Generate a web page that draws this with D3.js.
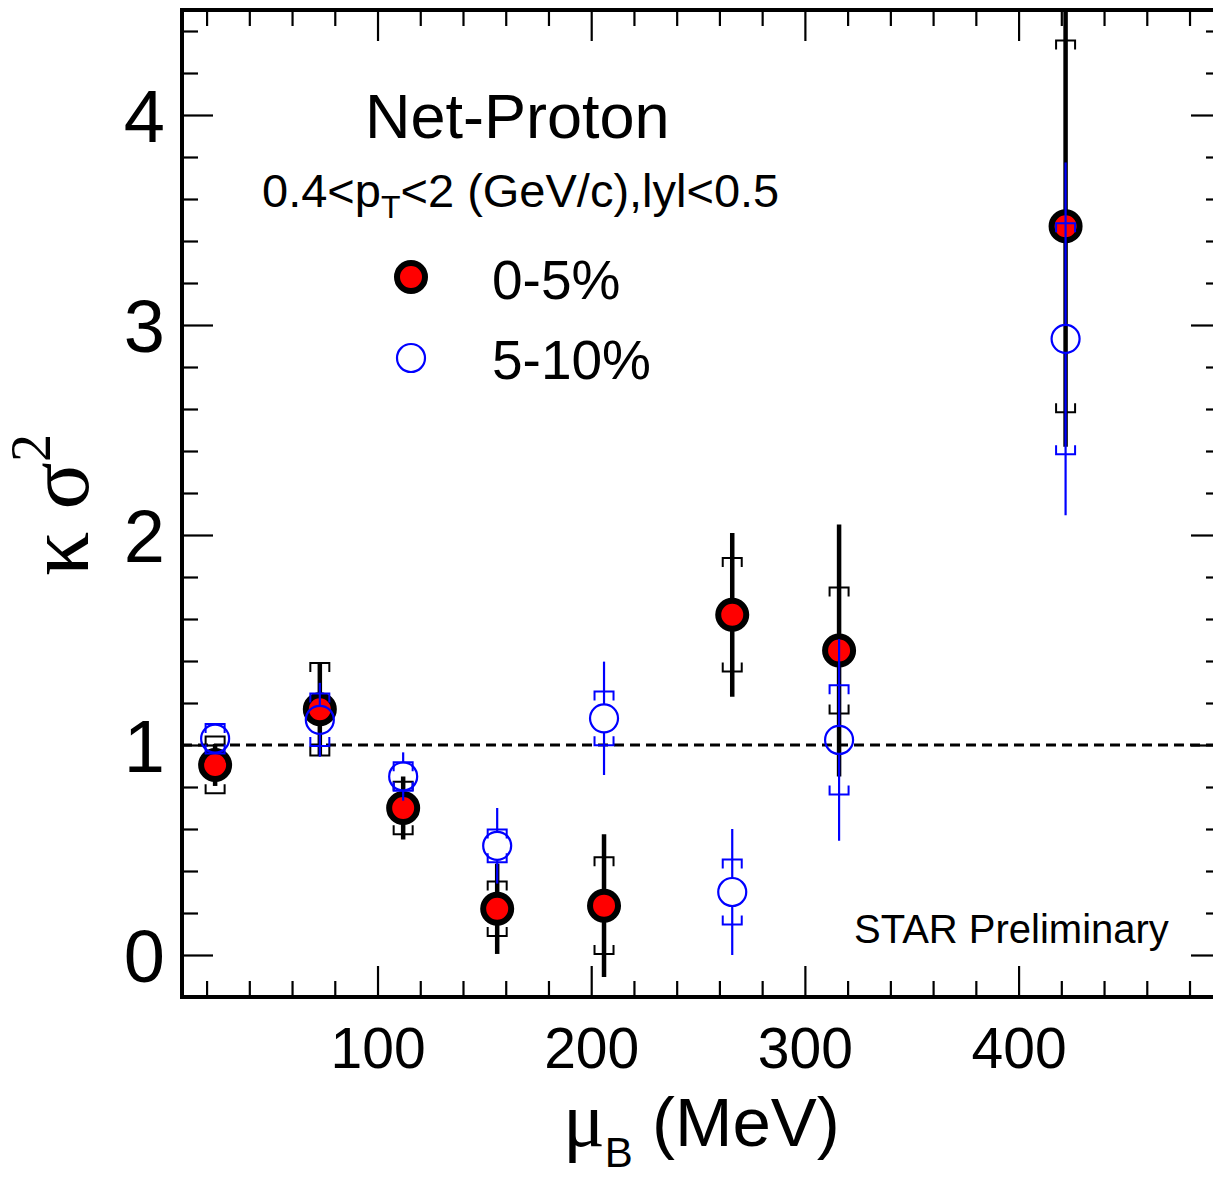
<!DOCTYPE html>
<html><head><meta charset="utf-8">
<script src="https://cdn.jsdelivr.net/npm/d3@7"></script>
<style>body{margin:0;background:#fff}svg{display:block}</style>
</head><body>
<svg id="c" width="1213" height="1179"></svg>
<script>
// ---- data ----
const muB = [24, 73, 112, 156, 206, 266, 316, 422];
const kappa0to5 = [0.905, 1.17, 0.70, 0.22, 0.235, 1.62, 1.45, 3.47];
const stat0to5  = [0.10, 0.22, 0.15, 0.215, 0.34, 0.39, 0.60, 1.05];
const sys0to5   = [0.135, 0.22, 0.125, 0.13, 0.23, 0.27, 0.30, 0.885];
const kappa5to10 = [1.03, 1.12, 0.85, 0.52, 1.127, 0.30, 1.024, 2.934];
const stat5to10  = [0.05, 0.176, 0.115, 0.18, 0.27, 0.30, 0.48, 0.84];
const sys5to10   = [0.07, 0.125, 0.068, 0.078, 0.128, 0.155, 0.26, 0.55];
const xMajorTicks = [100, 200, 300, 400];
const yMajorTicks = [0, 1, 2, 3, 4];
const legendLabels = ["0-5%", "5-10%"];

const svg = d3.select("#c");
const L = 182, R = 1222, T = 10, B = 997;
const x = d3.scaleLinear().domain([8.5, 495.2]).range([L, R]);
const y = d3.scaleLinear().domain([-0.2, 4.5]).range([B, T]);
const sans = "'Liberation Sans', Arial, Helvetica, sans-serif";
const serif = "'Liberation Serif', 'DejaVu Serif', serif";

svg.append("defs").append("clipPath").attr("id","pc")
  .append("rect").attr("x",L).attr("y",T).attr("width",R-L).attr("height",B-T);

// minor ticks
const xMinor = d3.range(20, 495, 20).filter(v => v % 100 !== 0);
const yMinor = d3.range(-0.2, 4.51, 0.2).map(v => +v.toFixed(1)).filter(v => !Number.isInteger(v));

function styleAxis(g){ g.select(".domain").remove(); g.selectAll(".tick line").attr("stroke","#000").attr("stroke-width",2.2); }

svg.append("g").attr("transform",`translate(0,${B})`)
  .call(d3.axisBottom(x).tickValues(xMinor).tickSize(-16).tickFormat("")).call(styleAxis);
svg.append("g").attr("transform",`translate(0,${T})`)
  .call(d3.axisTop(x).tickValues(xMinor).tickSize(-16).tickFormat("")).call(styleAxis);
svg.append("g").attr("transform",`translate(0,${B})`)
  .call(d3.axisTop(x).tickValues(xMajorTicks).tickSize(31).tickFormat("")).call(styleAxis);
svg.append("g").attr("transform",`translate(0,${T})`)
  .call(d3.axisTop(x).tickValues(xMajorTicks).tickSize(-31).tickFormat("")).call(styleAxis);
// x labels
const xl = svg.append("g").attr("transform",`translate(0,${B})`)
  .call(d3.axisBottom(x).tickValues(xMajorTicks).tickSize(0).tickPadding(31).tickFormat(d3.format("d")));
xl.call(styleAxis);
xl.selectAll("text").attr("font-family",sans).attr("font-size",57).attr("fill","#000");

svg.append("g").attr("transform",`translate(${L},0)`)
  .call(d3.axisLeft(y).tickValues(yMinor).tickSize(-16).tickFormat("")).call(styleAxis);
svg.append("g").attr("transform",`translate(${R},0)`)
  .call(d3.axisRight(y).tickValues(yMinor).tickSize(-16).tickFormat("")).call(styleAxis);
svg.append("g").attr("transform",`translate(${R},0)`)
  .call(d3.axisRight(y).tickValues(yMajorTicks).tickSize(-31).tickFormat("")).call(styleAxis);
const yl = svg.append("g").attr("transform",`translate(${L},0)`)
  .call(d3.axisLeft(y).tickValues(yMajorTicks).tickSize(-31).tickPadding(17).tickFormat(d3.format("d")));
yl.call(styleAxis);
yl.selectAll("text").attr("font-family",sans).attr("font-size",74).attr("fill","#000").attr("dy","0.36em");

// frame
svg.append("rect").attr("x",L).attr("y",T).attr("width",R-L).attr("height",B-T)
  .attr("fill","none").attr("stroke","#000").attr("stroke-width",4);

// dashed line at 1
svg.append("line").attr("x1",L).attr("x2",R).attr("y1",y(1)).attr("y2",y(1))
  .attr("stroke","#000").attr("stroke-width",3).attr("stroke-dasharray","10,6");

const plot = svg.append("g").attr("clip-path","url(#pc)");
const bw = 9.5, bl = 9;
function bracketTop(px, py){ return `M${px-bw},${py+bl}V${py}H${px+bw}V${py+bl}`; }
function bracketBot(px, py){ return `M${px-bw},${py-bl}V${py}H${px+bw}V${py-bl}`; }

function drawSeries(vals, stat, sys, color, statW, filled){
  const g = plot.append("g");
  const r = 14;
  muB.forEach((m,i) => {
    const px = x(m), cy = y(vals[i]);
    const yt = y(vals[i]+stat[i]), yb = y(vals[i]-stat[i]);
    if (filled) {
      g.append("line").attr("x1",px).attr("x2",px).attr("y1",yt).attr("y2",yb)
        .attr("stroke",color).attr("stroke-width",statW);
    } else {
      if (cy - yt > r) g.append("line").attr("x1",px).attr("x2",px).attr("y1",yt).attr("y2",cy-r)
        .attr("stroke",color).attr("stroke-width",statW);
      if (yb - cy > r) g.append("line").attr("x1",px).attr("x2",px).attr("y1",cy+r).attr("y2",yb)
        .attr("stroke",color).attr("stroke-width",statW);
    }
    g.append("path").attr("d",bracketTop(px, y(vals[i]+sys[i]))).attr("fill","none").attr("stroke",color).attr("stroke-width",2);
    g.append("path").attr("d",bracketBot(px, y(vals[i]-sys[i]))).attr("fill","none").attr("stroke",color).attr("stroke-width",2);
  });
  muB.forEach((m,i) => {
    if (filled) g.append("circle").attr("cx",x(m)).attr("cy",y(vals[i])).attr("r",14)
      .attr("fill","#ff0000").attr("stroke","#000").attr("stroke-width",6);
    else g.append("circle").attr("cx",x(m)).attr("cy",y(vals[i])).attr("r",14)
      .attr("fill","none").attr("stroke",color).attr("stroke-width",2.2);
  });
}
drawSeries(kappa0to5, stat0to5, sys0to5, "#000", 4.5, true);
drawSeries(kappa5to10, stat5to10, sys5to10, "#0000ff", 2.2, false);

// texts
svg.append("text").attr("x",365).attr("y",138).attr("font-family",sans).attr("font-size",63).text("Net-Proton");
const st = svg.append("text").attr("x",262).attr("y",207).attr("font-family",sans).attr("font-size",47);
st.append("tspan").text("0.4<p");
st.append("tspan").attr("font-size",32).attr("dy",11).text("T");
st.append("tspan").attr("dy",-11).text("<2 (GeV/c),lyl<0.5");

// legend
svg.append("circle").attr("cx",411).attr("cy",277).attr("r",14).attr("fill","#ff0000").attr("stroke","#000").attr("stroke-width",6);
svg.append("circle").attr("cx",411).attr("cy",358).attr("r",14).attr("fill","none").attr("stroke","#0000ff").attr("stroke-width",2.2);
svg.append("text").attr("x",492).attr("y",299).attr("font-family",sans).attr("font-size",55).text(legendLabels[0]);
svg.append("text").attr("x",492).attr("y",379).attr("font-family",sans).attr("font-size",55).text(legendLabels[1]);

svg.append("text").attr("x",854).attr("y",943).attr("font-family",sans).attr("font-size",40).text("STAR Preliminary");

// x title
const xt = svg.append("text").attr("x",563).attr("y",1146).attr("font-family",sans).attr("font-size",69);
xt.append("tspan").attr("font-family",serif).attr("font-size",78).text("μ");
xt.append("tspan").attr("font-size",42).attr("dy",21).text("B");
xt.append("tspan").attr("dy",-21).text(" (MeV)");

// y title
const yt = svg.append("text").attr("transform","translate(88,505) rotate(-90)")
  .attr("text-anchor","middle").attr("font-family",serif).attr("font-size",88);
yt.append("tspan").text("κ σ");
yt.append("tspan").attr("font-size",56).attr("dy",-38).text("2");
</script>
</body></html>
